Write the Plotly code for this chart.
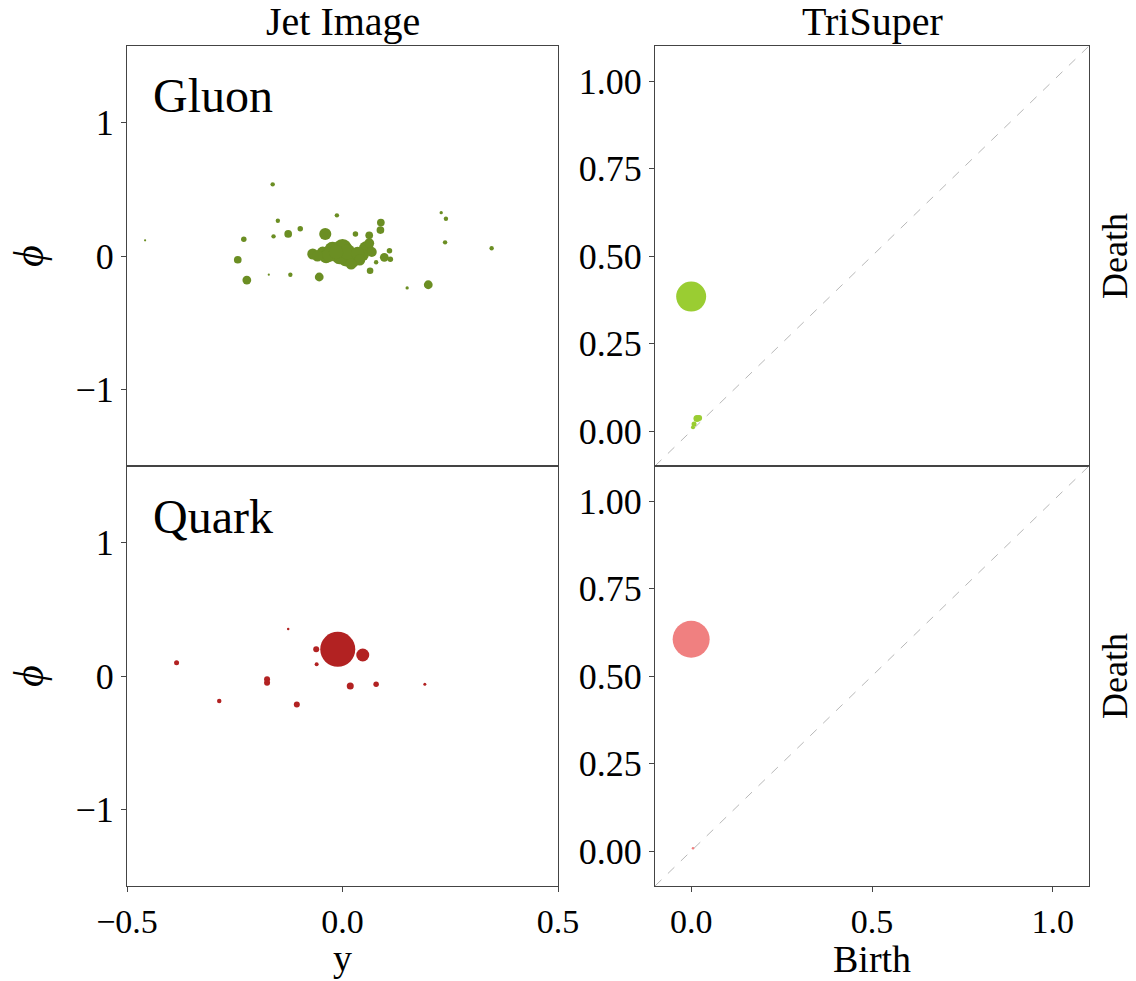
import plotly.graph_objects as go

# ---------------- data ----------------
# Jet images (rapidity y, azimuth phi, relative pT weight)
gluon_y = [-0.162, -0.458, -0.229, -0.243, -0.222, -0.171, -0.150, -0.160, -0.121, -0.126,
           -0.098, -0.054, -0.040, -0.013, 0.030, 0.062, 0.089, 0.088, 0.109, 0.097,
           0.111, 0.078, 0.064, 0.150, 0.199, 0.229, 0.240, 0.238, 0.346,
           -0.069, -0.046, -0.023, 0.000, 0.008, 0.024, 0.055, 0.062, -0.038, -0.007, 0.047,
           -0.058, -0.030, 0.012, 0.035, 0.040, 0.068, 0.020, -0.015]
gluon_phi = [0.536, 0.117, 0.125, -0.028, -0.180, -0.140, 0.264, 0.147, -0.140, 0.165,
             0.204, -0.157, 0.165, 0.304, 0.165, 0.155, 0.250, 0.194, 0.040, -0.010,
             -0.025, -0.047, -0.110, -0.239, -0.215, 0.324, 0.279, 0.102, 0.058,
             0.015, 0.025, 0.045, 0.057, -0.017, -0.042, 0.057, 0.095, -0.005, -0.005, 0.007,
             0.000, 0.010, 0.030, 0.020, -0.030, 0.030, -0.060, 0.030]
gluon_pt = [4, 2, 5, 7, 8, 2, 4, 4, 4, 7,
            5, 8, 11, 4, 5, 7, 7, 7, 5, 8,
            5, 4, 6, 3, 8, 3, 4, 4, 4,
            10, 11, 15, 17, 15, 11, 13, 9, 12, 14, 11,
            10, 13, 14, 12, 10, 9, 10, 13]

quark_y = [-0.126, -0.385, -0.061, -0.011, 0.047, -0.060, -0.175, -0.175, -0.286, -0.106,
           0.018, 0.078, 0.191]
quark_phi = [0.351, 0.100, 0.200, 0.200, 0.157, 0.088, -0.025, -0.050, -0.187, -0.214,
             -0.075, -0.062, -0.062]
quark_pt = [2.5, 5, 6, 35, 13, 4, 6, 6, 4.5, 6,
            7, 5.5, 3]

# Persistence diagrams (TriSuper)
gluon_birth = [0.000, 0.016, 0.022, 0.008, 0.005]
gluon_death = [0.384, 0.036, 0.037, 0.020, 0.011]
gluon_pers_w = [30, 7, 6, 5, 4]

quark_birth = [0.000, 0.005]
quark_death = [0.605, 0.008]
quark_pers_w = [37, 2.5]

jet_xrange = [-0.5, 0.5]
jet_yrange = [-1.5708, 1.5708]
dgm_range = [-0.1, 1.1]
jet_xticks = [-0.5, 0.0, 0.5]
jet_yticks = [-1, 0, 1]
dgm_xticks = [0.0, 0.5, 1.0]
dgm_yticks = [0.0, 0.25, 0.5, 0.75, 1.0]

# ---------------- figure ----------------
W, H = 1136, 981
FONT = "Liberation Serif"
TICK = 36
XTICK = 34
TITLE = 38
AXC = "#444444"
SIZE_SCALE = 1.1

fig = go.Figure()

def px_x(p):
    return p / W

def px_y(p):
    return 1 - p / H

left_dom = [px_x(127), px_x(558)]
right_dom = [px_x(655), px_x(1089)]
top_dom = [px_y(466), px_y(46)]
bot_dom = [px_y(886), px_y(466)]

# scatter traces
fig.add_trace(go.Scatter(x=gluon_y, y=gluon_phi, mode="markers", xaxis="x", yaxis="y",
                         marker=dict(size=[s * SIZE_SCALE for s in gluon_pt], color="#6B8E23",
                                     opacity=1, line=dict(width=0)),
                         showlegend=False))
fig.add_trace(go.Scatter(x=quark_y, y=quark_phi, mode="markers", xaxis="x3", yaxis="y3",
                         marker=dict(size=quark_pt, color="#B22222", opacity=1,
                                     line=dict(width=0)),
                         showlegend=False))
# diagonals
for xa, ya in (("x2", "y2"), ("x4", "y4")):
    fig.add_trace(go.Scatter(x=dgm_range, y=dgm_range, mode="lines", xaxis=xa, yaxis=ya,
                             line=dict(color="#b8b8b8", width=1, dash="dash"),
                             showlegend=False, hoverinfo="skip"))
fig.add_trace(go.Scatter(x=gluon_birth, y=gluon_death, mode="markers", xaxis="x2", yaxis="y2",
                         marker=dict(size=gluon_pers_w, color="#9ACD32", opacity=1,
                                     line=dict(width=0)),
                         showlegend=False))
fig.add_trace(go.Scatter(x=quark_birth, y=quark_death, mode="markers", xaxis="x4", yaxis="y4",
                         marker=dict(size=quark_pers_w, color="#F08080", opacity=1,
                                     line=dict(width=0)),
                         showlegend=False))

base = dict(showline=True, linecolor=AXC, linewidth=1.2, mirror=True, showgrid=False,
            zeroline=False, ticks="outside", ticklen=5, tickcolor=AXC, tickwidth=1.2,
            automargin=False,
            tickfont=dict(family=FONT, size=TICK, color="black"))
xtickfont = dict(family=FONT, size=XTICK, color="black")

phi_title = dict(text="<i>ϕ</i>", font=dict(family=FONT, size=42, color="black"), standoff=18)

fig.update_layout(
    width=W, height=H, margin=dict(l=0, r=0, t=0, b=0, autoexpand=False),
    plot_bgcolor="white", paper_bgcolor="white",
    xaxis=dict(base, domain=left_dom, range=jet_xrange, anchor="y", showticklabels=False,
               ticks="", tickvals=jet_xticks),
    yaxis=dict(base, domain=top_dom, range=jet_yrange, anchor="x", tickvals=jet_yticks,
               title=phi_title),
    xaxis2=dict(base, domain=right_dom, range=dgm_range, anchor="y2", showticklabels=False,
                ticks="", tickvals=dgm_xticks),
    yaxis2=dict(base, domain=top_dom, range=dgm_range, anchor="x2", tickvals=dgm_yticks,
                tickformat=".2f"),
    xaxis3=dict(base, domain=left_dom, range=jet_xrange, anchor="y3", tickvals=jet_xticks,
                tickformat=".1f", tickfont=xtickfont),
    yaxis3=dict(base, domain=bot_dom, range=jet_yrange, anchor="x3", tickvals=jet_yticks,
                title=phi_title),
    xaxis4=dict(base, domain=right_dom, range=dgm_range, anchor="y4", tickvals=dgm_xticks,
                tickformat=".1f", tickfont=xtickfont),
    yaxis4=dict(base, domain=bot_dom, range=dgm_range, anchor="x4", tickvals=dgm_yticks,
                tickformat=".2f"),
)

ann_font = dict(family=FONT, size=TITLE, color="black")
annotations = [
    dict(text="Jet Image", x=(left_dom[0] + left_dom[1]) / 2, y=top_dom[1], xref="paper",
         yref="paper", xanchor="center", yanchor="bottom", yshift=0, showarrow=False,
         font=dict(family=FONT, size=40, color="black")),
    dict(text="TriSuper", x=(right_dom[0] + right_dom[1]) / 2, y=top_dom[1], xref="paper",
         yref="paper", xanchor="center", yanchor="bottom", yshift=0, showarrow=False,
         font=dict(family=FONT, size=40, color="black")),
    dict(text="y", x=(left_dom[0] + left_dom[1]) / 2, y=px_y(958), xref="paper",
         yref="paper", xanchor="center", yanchor="middle", showarrow=False, font=ann_font),
    dict(text="Birth", x=(right_dom[0] + right_dom[1]) / 2, y=px_y(959), xref="paper",
         yref="paper", xanchor="center", yanchor="middle", showarrow=False, font=ann_font),
    dict(text="Gluon", x=-0.445, y=1.2, xref="x", yref="y", xanchor="left", yanchor="middle",
         showarrow=False, font=dict(family=FONT, size=48, color="black")),
    dict(text="Quark", x=-0.445, y=1.19, xref="x3", yref="y3", xanchor="left", yanchor="middle",
         showarrow=False, font=dict(family=FONT, size=48, color="black")),
    dict(text="Death", x=right_dom[1], y=(top_dom[0] + top_dom[1]) / 2, xref="paper",
         yref="paper", xanchor="left", yanchor="middle", xshift=4, textangle=-90,
         showarrow=False, font=dict(family=FONT, size=36, color="black")),
    dict(text="Death", x=right_dom[1], y=(bot_dom[0] + bot_dom[1]) / 2, xref="paper",
         yref="paper", xanchor="left", yanchor="middle", xshift=4, textangle=-90,
         showarrow=False, font=dict(family=FONT, size=36, color="black")),
]
fig.update_layout(annotations=annotations)

fig.write_html("out.html")
